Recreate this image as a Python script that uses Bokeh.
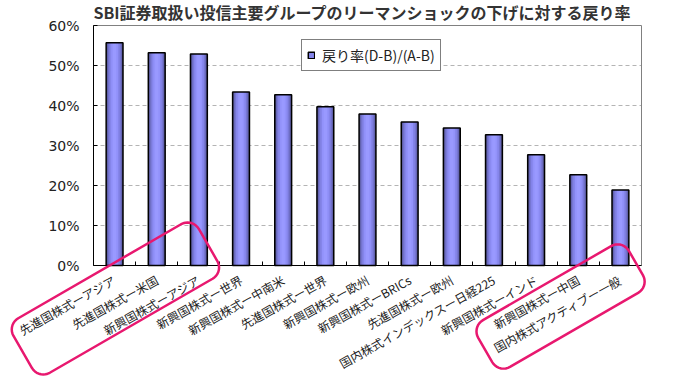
import numpy as np
from bokeh.plotting import figure
from bokeh.models import (Range1d, FixedTicker, NumeralTickFormatter, Legend,
                          LegendItem, PolyAnnotation, Label, BoxAnnotation)
from bokeh.embed import file_html
from bokeh.resources import INLINE

title_text = "SBI証券取扱い投信主要グループのリーマンショックの下げに対する戻り率"
categories = [
    "先進国株式ーアジア", "先進国株式ー米国", "新興国株式ーアジア", "新興国株式ー世界",
    "新興国株式ー中南米", "先進国株式ー世界", "新興国株式ー欧州", "新興国株式ーBRICs",
    "先進国株式ー欧州", "国内株式インデックスー日経225", "新興国株式ーインド",
    "新興国株式ー中国", "国内株式アクティブー一般",
]
rates = [0.557, 0.532, 0.529, 0.434, 0.427, 0.397, 0.379, 0.359, 0.344,
         0.327, 0.277, 0.227, 0.189]
y_ticks = [0.0, 0.1, 0.2, 0.3, 0.4, 0.5, 0.6]
legend_label = "戻り率(D-B)/(A-B)"

# layout (pixels): canvas and plotting area inside it
W, H = 690, 380
PA_LEFT, PA_RIGHT, PA_TOP, PA_BOTTOM = 93, 641, 25, 265

n = len(categories)
x = list(np.arange(n) + 0.5)
Y_MAX = y_ticks[-1]
ppc = (PA_RIGHT - PA_LEFT) / n          # pixels per category
ppu = (PA_BOTTOM - PA_TOP) / Y_MAX       # pixels per unit of y

x_range = Range1d(-PA_LEFT / ppc, n + (W - PA_RIGHT) / ppc)
y_range = Range1d(-(H - PA_BOTTOM) / ppu, Y_MAX + PA_TOP / ppu)

JP = "Noto Sans CJK JP"

p = figure(width=W, height=H, x_range=x_range, y_range=y_range,
           output_backend="svg", toolbar_location=None, min_border=0,
           background_fill_color="white", border_fill_color="white",
           outline_line_color=None)
p.xgrid.visible = False
p.ygrid.visible = False

# plotting-area frame (top/right grey) and dashed grid lines
p.add_layout(BoxAnnotation(left=0, right=n, bottom=0, top=Y_MAX,
                           fill_alpha=0, fill_color=None,
                           line_color="#808080", line_alpha=1.0,
                           line_width=1, level="underlay"))
grid_y = y_ticks[1:-1]
p.segment(x0=[0] * len(grid_y), x1=[n] * len(grid_y), y0=grid_y, y1=grid_y,
          line_color="#b4b4b4", line_dash="4 3", line_width=1,
          level="underlay")

# bars with a simple cylinder-like shading
layers = [(0.40, "#52528e"), (0.35, "#6565b4"), (0.30, "#7676d2"),
          (0.24, "#8585ea"), (0.16, "#9292fa"), (0.08, "#9999ff")]
renders = []
for w, c in layers:
    renders.append(p.vbar(x=x, top=rates, width=w, bottom=0, fill_color=c,
                          line_color=None))
r_out = p.vbar(x=x, top=rates, width=0.40, bottom=0, fill_color=None,
               line_color="black", line_width=1.5)

# axes (fixed inside the canvas)
xa = p.xaxis[0]
xa.fixed_location = 0
xa.bounds = (0, n)
xa.ticker = FixedTicker(ticks=x, minor_ticks=list(range(1, n)))
xa.major_label_overrides = {float(xi): c for xi, c in zip(x, categories)}
xa.major_label_orientation = np.radians(29)
xa.major_tick_line_color = None
xa.minor_tick_in = 4
xa.minor_tick_out = 0
xa.minor_tick_line_color = "black"
xa.axis_line_color = "black"
xa.major_label_text_font = JP
xa.major_label_text_font_size = "12px"
xa.major_label_text_color = "#222222"
xa.major_label_standoff = 7

ya = p.yaxis[0]
ya.fixed_location = 0
ya.bounds = (0, Y_MAX)
ya.ticker = FixedTicker(ticks=y_ticks)
ya.formatter = NumeralTickFormatter(format="0%")
ya.major_tick_in = 4
ya.major_tick_out = 0
ya.major_tick_line_color = "black"
ya.minor_tick_line_color = None
ya.axis_line_color = "black"
ya.major_label_text_font = "DejaVu Sans"
ya.major_label_text_font_size = "14px"
ya.major_label_text_color = "#222222"
ya.major_label_standoff = 14

# title
p.add_layout(Label(x=n / 2, y=Y_MAX, text=title_text, text_align="center",
                   text_baseline="middle", y_offset=14, x_offset=-5,
                   text_font=JP, text_font_style="bold",
                   text_font_size="16px", text_color="#333333"))

# legend
legend = Legend(items=[LegendItem(label=legend_label,
                                  renderers=[renders[3], r_out])],
                location=(301, 309), margin=0, padding=5, spacing=0,
                glyph_width=8, glyph_height=8, label_standoff=7,
                label_text_font=JP, label_text_font_size="14px",
                label_text_color="#222222", border_line_color="black",
                border_line_width=1, background_fill_color="white",
                background_fill_alpha=1.0)
p.add_layout(legend)

# pink call-out outlines (rounded, rotated rectangles)
PINK = "#e8186f"


def rounded_rect(cx_cat, below_px, length, width, radius, ang_deg, npts=10):
    pts = []
    hl, hw = length / 2 - radius, width / 2 - radius
    for ux, uy, a0 in [(hl, hw, 0), (-hl, hw, 90), (-hl, -hw, 180), (hl, -hw, 270)]:
        for t in np.radians(np.linspace(a0, a0 + 90, npts)):
            pts.append((ux + radius * np.cos(t), uy + radius * np.sin(t)))
    a = np.radians(ang_deg)
    xs, ys = [], []
    for u, v in pts:
        dx = u * np.cos(a) - v * np.sin(a)
        dy = u * np.sin(a) + v * np.cos(a)
        xs.append(cx_cat + dx / ppc)
        ys.append((-below_px + dy) / ppu)
    return xs, ys


for cx_cat, below, L, Wd in [(0.52, 33, 214, 63), (11.08, 41, 174, 54)]:
    xs, ys = rounded_rect(cx_cat, below, L, Wd, 13, 30)
    p.add_layout(PolyAnnotation(xs=xs, ys=ys, fill_color=None, fill_alpha=0,
                                line_color=PINK, line_alpha=1.0,
                                line_width=2.5))

open("out.html", "w").write(file_html(p, INLINE))
